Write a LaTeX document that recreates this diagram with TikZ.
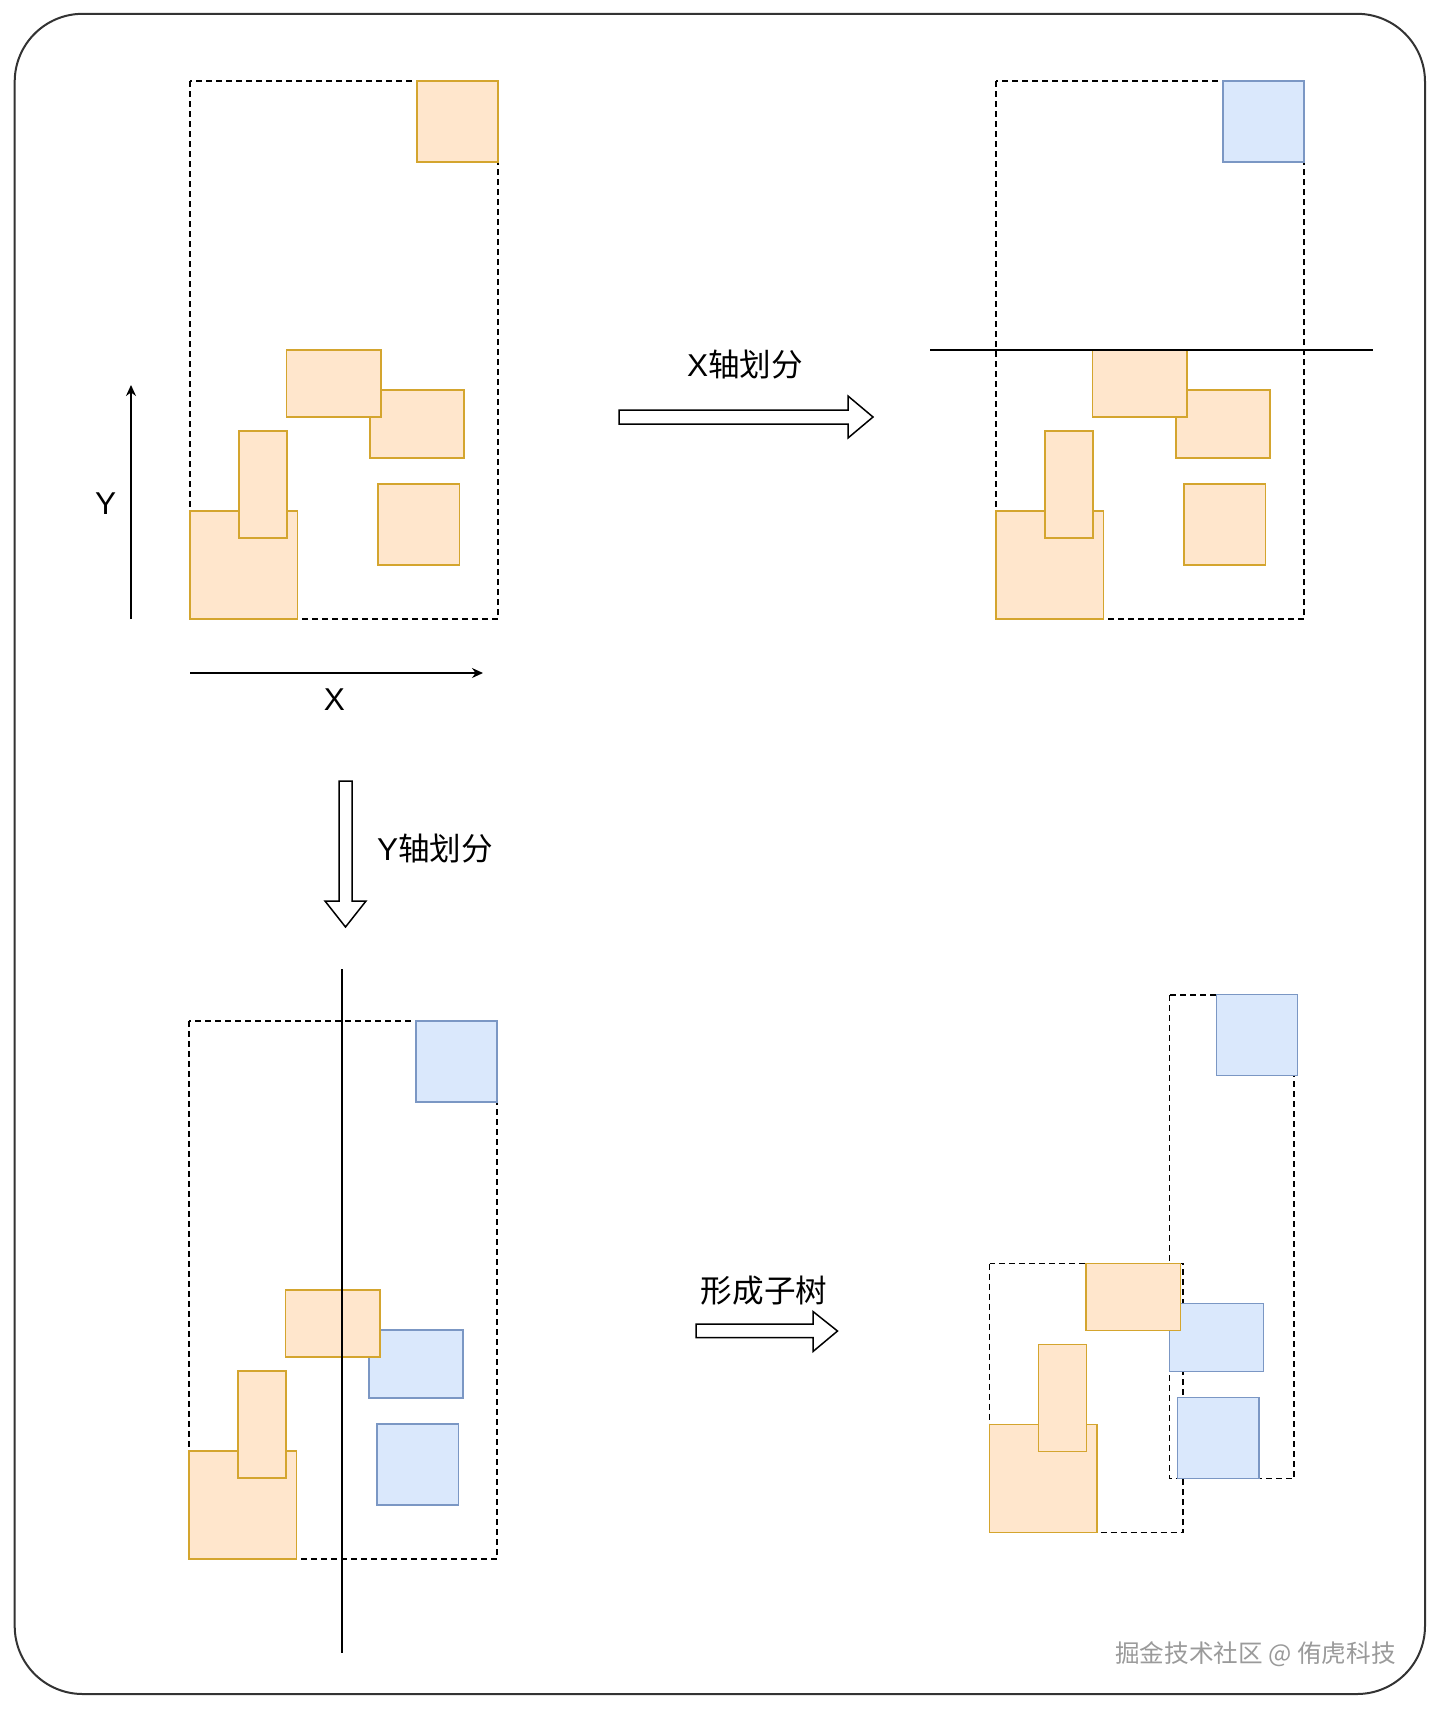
\documentclass[tikz,border=0pt]{standalone}
\usepackage{fontspec}
\setmainfont{Liberation Sans}
\newfontfamily\cjkfont{Noto Sans CJK SC}
\usepackage{xcolor}
\usepackage{tikz}
\usetikzlibrary{arrows.meta}
\definecolor{boxorange}{HTML}{FFE6CC}
\definecolor{lineorange}{HTML}{D4A52E}
\definecolor{boxblue}{HTML}{DAE8FC}
\definecolor{lineblue}{HTML}{7B97C4}
\definecolor{framegray}{HTML}{333333}
\definecolor{markgray}{HTML}{9A9A9A}

\begin{document}
\begin{tikzpicture}[x=0.5pt,y=-0.5pt,
  orect/.style={draw=lineorange,fill=boxorange,line width=0.8pt},
  brect/.style={draw=lineblue,fill=boxblue,line width=0.8pt},
  bound/.style={draw=black,line width=0.6pt,dash pattern=on 3pt off 2pt},
  axis/.style={draw=black,line width=0.7pt,-{Stealth[length=5.5pt,width=5pt]}},
  cut/.style={draw=black,line width=0.6pt},
  blockarrow/.style={draw=black,fill=white,line width=0.75pt,line join=miter},
  lbl/.style={inner sep=0pt,font=\fontsize{15.8}{18}\selectfont}]
  \useasboundingbox (0,0) rectangle (1440,1709);
  \draw[framegray,line width=1pt,rounded corners=34pt] (14.7,13.8) rectangle (1425,1694);

  % Panel 1: Ausgangslage mit Achsen
  \draw[bound] (190,81) rectangle (498,619);
  \draw[orect] (417,81) rectangle (498,162);
  \draw[orect] (370,390) rectangle (464,458);
  \draw[orect] (286.5,350) rectangle (381,417);
  \draw[orect] (190,511) rectangle (297.5,619);
  \draw[orect] (239,431) rectangle (287,538);
  \draw[orect] (378,484) rectangle (459.5,565);
  \draw[axis] (131,619) -- (131,385);
  \node[lbl] (ylab) at (105.7,503.3) {Y};
  \draw[axis] (190,673) -- (483,673);
  \node[lbl] (xlab) at (334.3,700) {X};

  % Pfeil zu Panel 2
  \draw[blockarrow] (619,410) -- (848,410) -- (848,396) -- (873,417) -- (848,438) -- (848,424) -- (619,424) -- cycle;
  \node[lbl] (xsplit) at (745,365) {X{\cjkfont 轴划分}};

  % Panel 2: Teilung an der X-Achse
  \begin{scope}[shift={(806,0)}]
    \draw[bound] (190,81) rectangle (498,619);
    \draw[brect] (417,81) rectangle (498,162);
    \draw[orect] (370,390) rectangle (464,458);
    \draw[orect] (286.5,350) rectangle (381,417);
    \draw[orect] (190,511) rectangle (297.5,619);
    \draw[orect] (239,431) rectangle (287,538);
    \draw[orect] (378,484) rectangle (459.5,565);
  \end{scope}
  \draw[cut] (930,350) -- (1373,350);

  % Pfeil zu Panel 3
  \draw[blockarrow] (339,781) -- (352,781) -- (352,901) -- (366,901) -- (345.5,927) -- (325,901) -- (339,901) -- cycle;
  \node[lbl] (ysplit) at (435,849) {Y{\cjkfont 轴划分}};

  % Panel 3: Teilung an der Y-Achse
  \begin{scope}[shift={(-1,940)}]
    \draw[bound] (190,81) rectangle (498,619);
    \draw[brect] (417,81) rectangle (498,162);
    \draw[brect] (370,390) rectangle (464,458);
    \draw[orect] (286.5,350) rectangle (381,417);
    \draw[orect] (190,511) rectangle (297.5,619);
    \draw[orect] (239,431) rectangle (287,538);
    \draw[brect] (378,484) rectangle (459.5,565);
  \end{scope}
  \draw[cut] (342,969) -- (342,1652.5);

  % Pfeil zu Panel 4
  \draw[blockarrow] (696,1324) -- (813,1324) -- (813,1311.5) -- (837.5,1331) -- (813,1351.5) -- (813,1337.5) -- (696,1337.5) -- cycle;
  \node[lbl] (subtree) at (764,1291) {\cjkfont 形成子树};

  % Panel 4: zwei Teilbaeume
  \begin{scope}[shift={(799.5,913.5)}]
    \draw[bound] (190,350) rectangle (383.5,619);
    \draw[bound] (370,81.5) rectangle (494.5,565);
    \draw[brect] (417,81) rectangle (498,162);
    \draw[brect] (370,390) rectangle (464,458);
    \draw[orect] (286.5,350) rectangle (381,417);
    \draw[orect] (190,511) rectangle (297.5,619);
    \draw[orect] (239,431) rectangle (287,538);
    \draw[brect] (378,484) rectangle (459.5,565);
  \end{scope}

  \node[inner sep=0pt,text=markgray,font=\cjkfont\fontsize{12.3}{14}\selectfont] (mark) at (1255.5,1654) {掘金技术社区 @ 侑虎科技};
\end{tikzpicture}
\end{document}
